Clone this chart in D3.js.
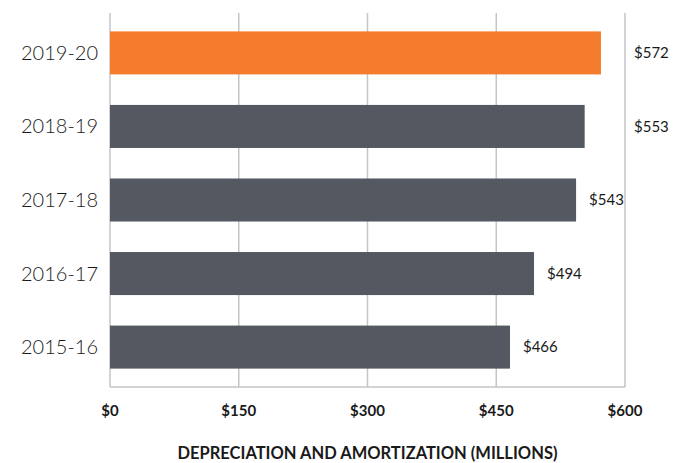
<!DOCTYPE html>
<html><head><meta charset="utf-8">
<script src="https://cdn.jsdelivr.net/npm/d3@7"></script>
<style>body{margin:0;background:#fff}svg{display:block}</style>
</head><body><svg id="c" width="673" height="463"></svg>
<script>
const categories = ["2019-20","2018-19","2017-18","2016-17","2015-16"];
const values = [572, 553, 543, 494, 466];
const highlight = ["2019-20"];
const tickValues = [0, 150, 300, 450, 600];
const axisTitle = "DEPRECIATION AND AMORTIZATION (MILLIONS)";

const svg = d3.select("#c");
const L = 110, R = 625, T = 13, B = 387;
const x = d3.scaleLinear().domain([0, 600]).range([L, R]);
const y = d3.scaleBand().domain(categories).range([T, B]).paddingInner(0.415).paddingOuter(0.25);

// grid
svg.append("g").selectAll("line").data(tickValues).join("line")
  .attr("x1", d => x(d)).attr("x2", d => x(d)).attr("y1", T).attr("y2", B)
  .attr("stroke", "#c3c5c9").attr("stroke-width", 1.5);
svg.append("line").attr("x1", L).attr("x2", R).attr("y1", B).attr("y2", B)
  .attr("stroke", "#c3c5c9").attr("stroke-width", 1.5);

const data = categories.map((c, i) => ({c, v: values[i]}));
svg.append("g").selectAll("rect").data(data).join("rect")
  .attr("x", x(0)).attr("y", d => y(d.c)).attr("width", d => x(d.v) - x(0)).attr("height", y.bandwidth())
  .attr("fill", d => highlight.includes(d.c) ? "#f47c2c" : "#545860");

// category labels
svg.append("g").selectAll("text").data(categories).join("text")
  .attr("x", 98).attr("y", d => y(d) + y.bandwidth() / 2).attr("dy", "0.35em")
  .attr("text-anchor", "end").attr("font-family", "Lato, sans-serif").attr("font-weight", 300).attr("font-size", 20)
  .attr("fill", "#1a1a1a").text(d => d);

// value labels
const vl = svg.append("g").selectAll("text").data(data).join("text")
  .attr("y", d => y(d.c) + y.bandwidth() / 2).attr("dy", "0.35em")
  .attr("font-family", "Lato, sans-serif").attr("font-size", 15).attr("fill", "#1a1a1a")
  .text(d => "$" + d.v);
vl.each(function(d) {
  const w = this.getComputedTextLength();
  const end = x(d.v);
  let px;
  if (end + 8 + w <= R - 1) px = Math.min(end + 13, R - 1 - w);
  else px = R + 9;
  d3.select(this).attr("x", px);
});

// ticks
svg.append("g").selectAll("text").data(tickValues).join("text")
  .attr("x", d => x(d)).attr("y", 416).attr("text-anchor", "middle")
  .attr("font-family", "Lato, sans-serif").attr("font-weight", "bold").attr("font-size", 15)
  .attr("fill", "#1a1a1a").text(d => "$" + d);

svg.append("text").attr("x", (L + R) / 2).attr("y", 453).attr("dy", "0.35em").attr("text-anchor", "middle")
  .attr("font-family", "Lato, sans-serif").attr("font-weight", "bold").attr("font-size", 16.5)
  .attr("fill", "#1a1a1a").text(axisTitle);
</script></body></html>
